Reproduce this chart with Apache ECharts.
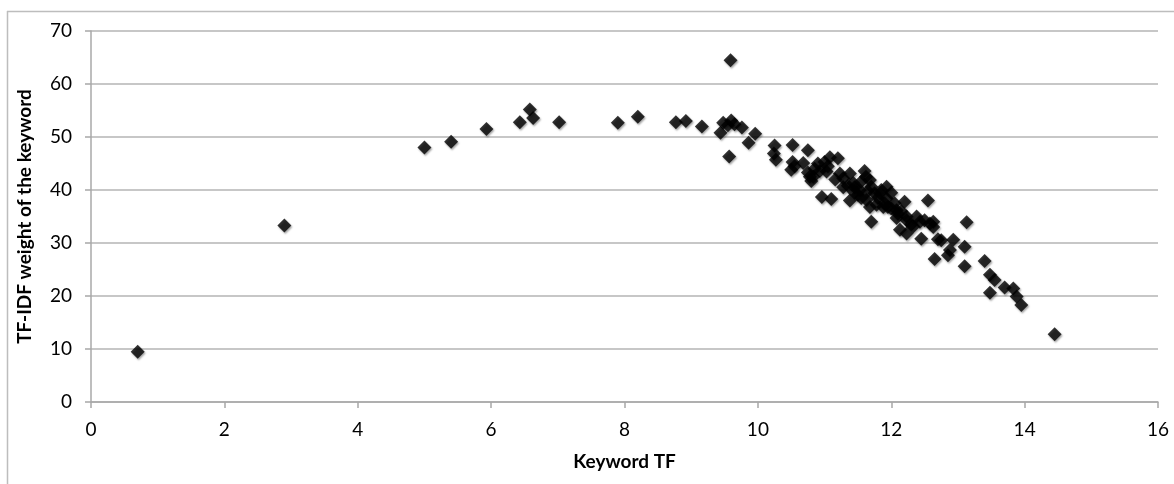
<!DOCTYPE html>
<html>
<head>
<meta charset="utf-8">
<script src="https://cdn.jsdelivr.net/npm/echarts@6/dist/echarts.min.js"></script>
<style>html,body{margin:0;padding:0;background:#fff}#c{width:1174px;height:484px}</style>
</head>
<body>
<div id="c"></div>
<script>
// Keyword TF (x) and TF-IDF weight (y)
const keywordTF = [
  0.7, 2.9, 5.0, 5.4, 5.93, 6.43, 6.58, 6.63, 7.02, 7.9, 8.2, 8.77, 8.92, 9.16, 9.44, 9.48, 9.55, 9.59, 9.6, 9.57,
  9.65, 9.76, 9.86, 9.96, 10.25, 10.24, 10.27, 10.52, 10.75, 10.52, 10.5, 10.55, 10.68, 10.75, 10.8, 10.83, 10.9, 10.93, 10.96, 11.08,
  11.2, 11.03, 11.16, 11.1, 11.23, 11.28, 11.38, 11.38, 11.43, 11.45, 11.5, 11.53, 11.55, 11.6, 11.62, 11.63, 11.68, 11.7, 11.68, 11.7,
  11.75, 11.78, 11.83, 11.88, 11.93, 11.93, 11.95, 12.0, 12.05, 12.08, 12.08, 12.13, 12.2, 12.23, 12.23, 12.23, 12.3, 12.33, 12.38, 12.43,
  12.45, 12.5, 12.55, 12.58, 12.63, 12.63, 12.65, 12.7, 12.75, 12.85, 12.88, 12.93, 13.1, 13.13, 13.1, 13.4, 13.48, 13.55, 13.48, 13.7,
  13.83, 13.88, 13.95, 14.45, 11.45, 11.55, 11.65, 11.8, 11.85, 11.9, 12.0, 12.1, 12.15, 11.35, 11.28, 11.0, 11.05, 10.85, 10.78
];
const tfidfWeight = [
  9.5, 33.3, 48.0, 49.1, 51.5, 52.8, 55.2, 53.6, 52.8, 52.7, 53.8, 52.8, 53.0, 52.0, 50.8, 52.7, 52.2, 64.5, 53.1, 46.3,
  52.4, 51.8, 48.9, 50.6, 48.4, 46.9, 45.7, 48.5, 47.5, 45.3, 43.8, 44.5, 45.1, 43.3, 41.7, 42.5, 45.0, 43.6, 38.7, 46.2,
  46.0, 43.5, 42.0, 38.3, 43.1, 42.2, 43.1, 38.0, 41.3, 40.5, 39.1, 40.0, 41.6, 43.6, 42.5, 38.1, 36.8, 34.0, 41.9, 40.6,
  39.4, 37.2, 39.4, 36.8, 40.6, 38.4, 36.8, 39.5, 37.5, 36.2, 34.7, 32.5, 37.8, 35.0, 34.3, 31.8, 33.5, 33.1, 35.0, 34.0,
  30.8, 34.3, 38.0, 33.7, 34.0, 33.0, 27.0, 30.7, 30.5, 27.7, 28.7, 30.6, 29.3, 33.9, 25.6, 26.6, 24.0, 23.0, 20.6, 21.6,
  21.4, 19.9, 18.3, 12.8, 39.5, 38.5, 39.8, 38.5, 40.0, 37.5, 36.5, 35.5, 36.0, 40.8, 40.5, 45.3, 44.5, 44.0, 42.5
];
const xTicks = { min: 0, max: 16, interval: 2 };
const yTicks = { min: 0, max: 70, interval: 10 };
const xName = 'Keyword TF';
const yName = 'TF-IDF weight of the keyword';

const points = keywordTF.map((x, i) => [x, tfidfWeight[i]]);
const font = 'Lato, "Open Sans", sans-serif';

const chart = echarts.init(document.getElementById('c'), null, { renderer: 'canvas' });
chart.setOption({
  animation: false,
  backgroundColor: '#fff',
  graphic: [
    { type: 'line', shape: { x1: 7, y1: 11.5, x2: 1174, y2: 11.5 }, style: { stroke: '#bdbdbd', lineWidth: 1.5 } },
    { type: 'line', shape: { x1: 7.5, y1: 11, x2: 7.5, y2: 484 }, style: { stroke: '#bdbdbd', lineWidth: 1.5 } }
  ],
  grid: { left: 91, right: 16, top: 31, bottom: 82, containLabel: false },
  xAxis: {
    type: 'value', min: xTicks.min, max: xTicks.max, interval: xTicks.interval,
    name: xName, nameLocation: 'middle', nameGap: 50,
    nameTextStyle: { fontFamily: font, fontWeight: 'bold', fontSize: 19, color: '#000' },
    axisLine: { show: true, lineStyle: { color: '#a8a8a8', width: 1.5 } },
    axisTick: { show: true, length: 6, lineStyle: { color: '#a8a8a8', width: 1.5 } },
    axisLabel: { margin: 18, fontFamily: font, fontSize: 19, color: '#000' },
    splitLine: { show: false }
  },
  yAxis: {
    type: 'value', min: yTicks.min, max: yTicks.max, interval: yTicks.interval,
    name: yName, nameLocation: 'middle', nameGap: 57,
    nameTextStyle: { fontFamily: font, fontWeight: 'bold', fontSize: 19, color: '#000' },
    axisLine: { show: true, lineStyle: { color: '#a8a8a8', width: 1.5 } },
    axisTick: { show: true, length: 6, lineStyle: { color: '#a8a8a8', width: 1.5 } },
    axisLabel: { margin: 19, fontFamily: font, fontSize: 19, color: '#000' },
    splitLine: { show: true, lineStyle: { color: '#b4b4b4', width: 1.5 } }
  },
  series: [{
    type: 'scatter',
    data: points,
    symbol: 'diamond',
    symbolSize: 14,
    itemStyle: { color: '#000', shadowColor: 'rgba(0,0,0,0.45)', shadowBlur: 2, shadowOffsetX: 1, shadowOffsetY: 1.5 }
  }]
});
</script>
</body>
</html>
